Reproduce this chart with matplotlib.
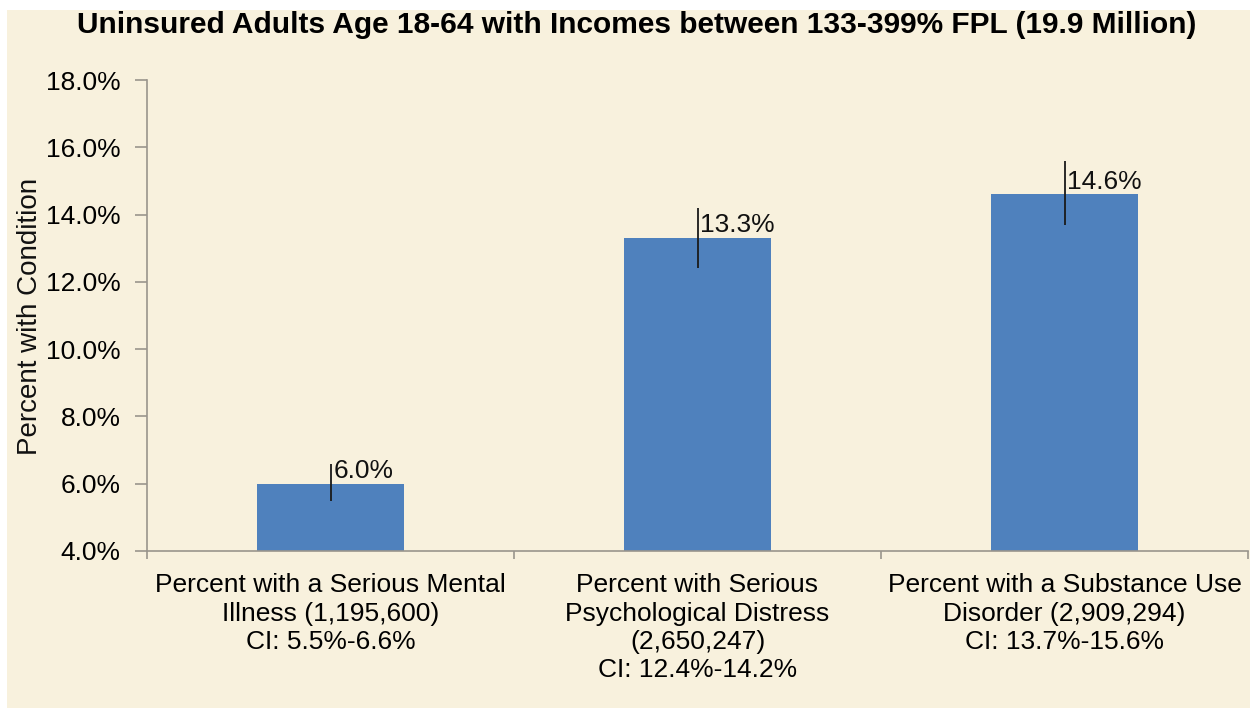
import matplotlib.pyplot as plt
from matplotlib.patches import Rectangle
from matplotlib.ticker import FuncFormatter, FixedLocator

plt.rcParams['font.family'] = ['Liberation Sans', 'DejaVu Sans']

# percent of uninsured adults (133-399% FPL) with each condition, plus 95% CI
categories = ['Percent with a Serious Mental\nIllness (1,195,600)\nCI: 5.5%-6.6%',
              'Percent with Serious\nPsychological Distress\n(2,650,247)\nCI: 12.4%-14.2%',
              'Percent with a Substance Use\nDisorder (2,909,294)\nCI: 13.7%-15.6%']
values = [6.0, 13.3, 14.6]
ci_low = [5.5, 12.4, 13.7]
ci_high = [6.6, 14.2, 15.6]

bg = '#F8F1DD'
fig = plt.figure(figsize=(12.5, 7.08), dpi=100, facecolor='white')
fig.patches.append(Rectangle((7 / 1250, 0), 1, 1 - 10 / 708, transform=fig.transFigure,
                             facecolor=bg, edgecolor='none', zorder=-1))
ax = fig.add_axes([147 / 1250, 1 - 551 / 708, 1101 / 1250, 471 / 708])
ax.set_facecolor(bg)

x = list(range(len(values)))
ax.bar(x, values, width=0.4, color='#4F81BD', bottom=0, zorder=2)

# confidence interval lines, no caps
err_lo = [v - lo for v, lo in zip(values, ci_low)]
err_hi = [hi - v for v, hi in zip(values, ci_high)]
ax.errorbar(x, values, yerr=[err_lo, err_hi], fmt='none', ecolor='#1a1a1a',
            elinewidth=1.3, capsize=0, zorder=3)

for xi, v in zip(x, values):
    ax.text(xi + 0.008, v + 0.02, f'{v:.1f}%', ha='left', va='bottom',
            fontsize=19, color='#111111', zorder=4)

ax.set_ylim(4, 18)
ax.set_xlim(-0.5, 2.5)
ax.set_yticks([4, 6, 8, 10, 12, 14, 16, 18])
ax.yaxis.set_major_formatter(FuncFormatter(lambda v, p: f'{v:.1f}%'))
ax.set_xticks(x)
ax.set_xticklabels(categories, fontsize=19, linespacing=1.23)
ax.xaxis.set_minor_locator(FixedLocator([-0.5, 0.5, 1.5, 2.5]))
ax.tick_params(axis='x', which='major', length=0, pad=16)
ax.tick_params(axis='x', which='minor', length=6, color='#9a958c', width=1.2)
ax.tick_params(axis='y', length=9, color='#9a958c', width=1.2, labelsize=19, pad=10)

for s in ['top', 'right']:
    ax.spines[s].set_visible(False)
for s in ['left', 'bottom']:
    ax.spines[s].set_color('#9a958c')
    ax.spines[s].set_linewidth(1.2)

fig.text(30 / 1250, 1 - 316 / 708, 'Percent with Condition', rotation=90,
         ha='center', va='center', fontsize=20, color='#111111')

fig.text(637 / 1250, 1 - 25 / 708, 'Uninsured Adults Age 18-64 with Incomes between 133-399% FPL (19.9 Million)',
         ha='center', va='center', fontsize=21.5, fontweight='bold')

fig.savefig('out.png', dpi=100, facecolor=fig.get_facecolor())
